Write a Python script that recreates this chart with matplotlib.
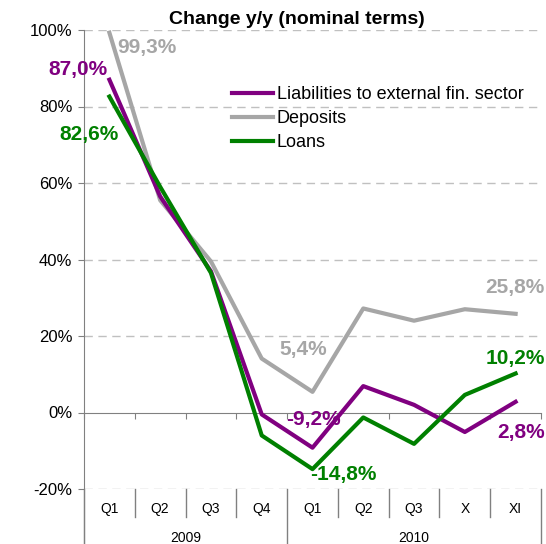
import numpy as np
import matplotlib.pyplot as plt

plt.rcParams["font.family"] = ["Liberation Sans", "DejaVu Sans"]

# categories
quarters = ["Q1", "Q2", "Q3", "Q4", "Q1", "Q2", "Q3", "X", "XI"]
years = ["2009", "2010"]
year_bounds = [0, 4, 9]

# series (% y/y)
liabilities = [87.0, 56.5, 36.9, -0.5, -9.2, 6.9, 2.0, -5.1, 2.8]
deposits = [99.3, 55.5, 39.5, 14.1, 5.4, 27.2, 24.0, 27.0, 25.8]
loans = [82.6, 59.0, 36.5, -6.0, -14.8, -1.3, -8.2, 4.6, 10.2]

purple = "#800080"
grey = "#A6A6A6"
green = "#008000"
axis_grey = "#808080"

fig = plt.figure(figsize=(5.46, 5.44), dpi=100)
ax = fig.add_axes([84 / 546, 1 - 489 / 544, 457 / 546, 459 / 544])

x = np.arange(len(quarters))

ax.plot(x, liabilities, color=purple, lw=3, label="Liabilities to external fin. sector", zorder=3)
ax.plot(x, deposits, color=grey, lw=3, label="Deposits", zorder=2)
ax.plot(x, loans, color=green, lw=3, label="Loans", zorder=4)

ax.set_xlim(-0.5, len(quarters) - 0.5)
ax.set_ylim(-20, 100)

# y axis
yt = np.arange(-20, 101, 20)
ax.set_yticks(yt)
ax.set_yticklabels([f"{v}%" for v in yt], fontsize=12)
ax.tick_params(axis="y", direction="out", length=4.5, color=axis_grey, pad=4)
for v in yt:
    if v != 0:
        ax.axhline(v, color="#C0C0C0", lw=1, ls=(0, (6, 4)), zorder=0)

for s in ["top", "right"]:
    ax.spines[s].set_visible(False)
ax.spines["left"].set_color(axis_grey)
ax.spines["left"].set_bounds(-36, 100)

# x axis at zero
ax.spines["bottom"].set_position(("data", 0))
ax.spines["bottom"].set_color(axis_grey)
ax.set_xticks(np.arange(len(quarters) + 1) - 0.5)
ax.set_xticklabels([])
ax.tick_params(axis="x", direction="out", length=4, color=axis_grey)

# category labels below plot
for i, q in enumerate(quarters):
    ax.text(i, -25.3, q, ha="center", va="center", fontsize=10)
for i in range(len(quarters) + 1):
    bottom = -36 if i in year_bounds else -27.4
    ax.plot([i - 0.5, i - 0.5], [-20, bottom], color=axis_grey, lw=1, clip_on=False)
for k, yr in enumerate(years):
    mid = (year_bounds[k] + year_bounds[k + 1]) / 2 - 0.5
    ax.text(mid, -32.9, yr, ha="center", va="center", fontsize=10)

# data labels
lab = dict(fontsize=15, fontweight="bold", ha="center", va="center")
ax.text(-0.61, 89.6, "87,0%", color=purple, **lab)
ax.text(0.74, 95.3, "99,3%", color=grey, **lab)
ax.text(-0.40, 72.6, "82,6%", color=green, **lab)
ax.text(3.81, 16.4, "5,4%", color=grey, **lab)
ax.text(4.02, -1.8, "-9,2%", color=purple, **lab)
ax.text(4.61, -16.2, "-14,8%", color=green, **lab)
ax.text(7.99, 32.6, "25,8%", color=grey, **lab)
ax.text(7.99, 14.0, "10,2%", color=green, **lab)
ax.text(8.10, -5.3, "2,8%", color=purple, **lab)

fig.text(297 / 546, 1 - 19 / 544, "Change y/y (nominal terms)", fontsize=14,
         fontweight="bold", ha="center", va="center")

ax.legend(loc="upper left", bbox_to_anchor=(232 / 546, 1 - 86 / 544),
          bbox_transform=fig.transFigure, frameon=False, fontsize=13,
          handlelength=2.27, handletextpad=0.22, labelspacing=0.39,
          borderpad=0, borderaxespad=0)

fig.savefig("out.png", dpi=100)
